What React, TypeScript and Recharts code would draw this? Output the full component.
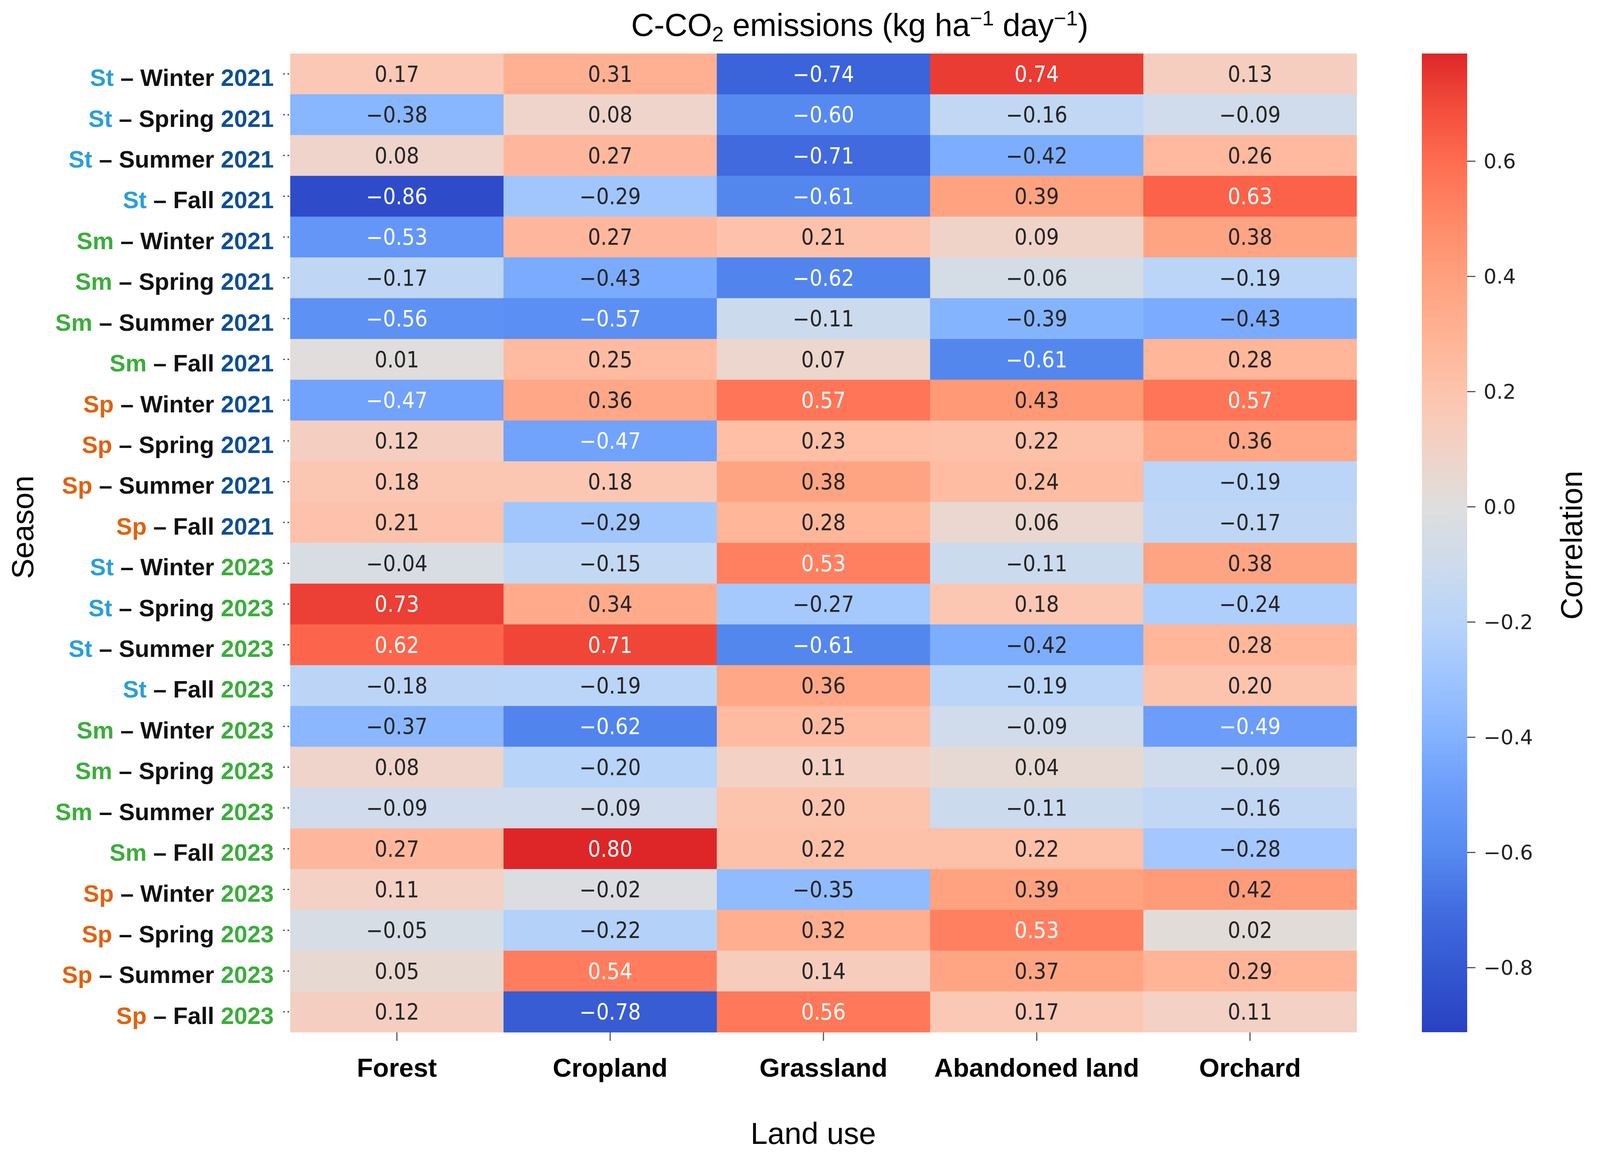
import React from 'react';
import { ScatterChart, Scatter, XAxis, YAxis, BarChart, Bar } from 'recharts';

const LAND_USES = ['Forest', 'Cropland', 'Grassland', 'Abandoned land', 'Orchard'];

const SEASONS = [
  'St – Winter 2021', 'St – Spring 2021', 'St – Summer 2021', 'St – Fall 2021',
  'Sm – Winter 2021', 'Sm – Spring 2021', 'Sm – Summer 2021', 'Sm – Fall 2021',
  'Sp – Winter 2021', 'Sp – Spring 2021', 'Sp – Summer 2021', 'Sp – Fall 2021',
  'St – Winter 2023', 'St – Spring 2023', 'St – Summer 2023', 'St – Fall 2023',
  'Sm – Winter 2023', 'Sm – Spring 2023', 'Sm – Summer 2023', 'Sm – Fall 2023',
  'Sp – Winter 2023', 'Sp – Spring 2023', 'Sp – Summer 2023', 'Sp – Fall 2023',
];

// one array per land use, rows in SEASONS order
const FOREST = [0.17, -0.38, 0.08, -0.86, -0.53, -0.17, -0.56, 0.01, -0.47, 0.12, 0.18, 0.21,
  -0.04, 0.73, 0.62, -0.18, -0.37, 0.08, -0.09, 0.27, 0.11, -0.05, 0.05, 0.12];
const CROPLAND = [0.31, 0.08, 0.27, -0.29, 0.27, -0.43, -0.57, 0.25, 0.36, -0.47, 0.18, -0.29,
  -0.15, 0.34, 0.71, -0.19, -0.62, -0.2, -0.09, 0.8, -0.02, -0.22, 0.54, -0.78];
const GRASSLAND = [-0.74, -0.6, -0.71, -0.61, 0.21, -0.62, -0.11, 0.07, 0.57, 0.23, 0.38, 0.28,
  0.53, -0.27, -0.61, 0.36, 0.25, 0.11, 0.2, 0.22, -0.35, 0.32, 0.14, 0.56];
const ABANDONED = [0.74, -0.16, -0.42, 0.39, 0.09, -0.06, -0.39, -0.61, 0.43, 0.22, 0.24, 0.06,
  -0.11, 0.18, -0.42, -0.19, -0.09, 0.04, -0.11, 0.22, 0.39, 0.53, 0.37, 0.17];
const ORCHARD = [0.13, -0.09, 0.26, 0.63, 0.38, -0.19, -0.43, 0.28, 0.57, 0.36, -0.19, -0.17,
  0.38, -0.24, 0.28, 0.2, -0.49, -0.09, -0.16, -0.28, 0.42, 0.02, 0.29, 0.11];

const COLUMNS = [FOREST, CROPLAND, GRASSLAND, ABANDONED, ORCHARD];

const CB_DOMAIN = [-0.912, 0.787];
const CB_TICKS = [-0.8, -0.6, -0.4, -0.2, 0, 0.2, 0.4, 0.6];

// saturated coolwarm-like ramp
const RAMP: [number, number[]][] = [
  [-0.912, [40, 65, 195]],
  [-0.8, [52, 88, 208]],
  [-0.7, [66, 108, 224]],
  [-0.6, [86, 138, 240]],
  [-0.5, [105, 155, 250]],
  [-0.4, [130, 178, 255]],
  [-0.3, [158, 196, 255]],
  [-0.2, [184, 212, 248]],
  [-0.1, [206, 219, 236]],
  [0, [222, 222, 222]],
  [0.1, [242, 210, 198]],
  [0.2, [253, 196, 173]],
  [0.3, [255, 178, 148]],
  [0.4, [255, 160, 125]],
  [0.5, [255, 137, 103]],
  [0.6, [255, 108, 80]],
  [0.7, [242, 74, 58]],
  [0.8, [222, 38, 40]],
];

const colorFor = (v: number) => {
  if (v <= RAMP[0][0]) return `rgb(${RAMP[0][1].join(',')})`;
  for (let i = 1; i < RAMP.length; i++) {
    const [v1, c1] = RAMP[i];
    if (v <= v1) {
      const [v0, c0] = RAMP[i - 1];
      const t = (v - v0) / (v1 - v0);
      const c = c0.map((a, k) => Math.round(a + (c1[k] - a) * t));
      return `rgb(${c.join(',')})`;
    }
  }
  return `rgb(${RAMP[RAMP.length - 1][1].join(',')})`;
};

const fmt = (v: number, digits = 2) => {
  const s = Math.abs(v).toFixed(digits);
  return v < 0 ? `\u2212${s}` : s;
};

// the photographed area is 4096 px wide, so horizontal positions are scaled to fit
const W = 4096;
const H = 2960;
const TOP = 137;
const LEFT = 743;
const RIGHT = 623;
const BOTTOM = 317;
const CB_LEFT = 3640;
const CB_WIDTH = 116;
const CELL_W = (W - LEFT - RIGHT) / LAND_USES.length;
const CELL_H = (H - TOP - BOTTOM) / SEASONS.length;

const FONT = "'Liberation Sans', Arial, sans-serif";
const PREFIX_COLORS: Record<string, string> = { St: '#2a9fd8', Sm: '#3aae3a', Sp: '#e0620f' };
const YEAR_COLORS: Record<string, string> = { '2021': '#0e4f98', '2023': '#3aae3a' };

const cells = LAND_USES.flatMap((land, c) =>
  SEASONS.map((season, r) => ({ land, season, value: COLUMNS[c][r] }))
);

const HeatCell = (props: any) => {
  const { cx, cy, payload } = props;
  const v = payload.value;
  return (
    <g>
      <rect
        x={cx - CELL_W / 2}
        y={cy - CELL_H / 2}
        width={CELL_W + 0.6}
        height={CELL_H + 0.6}
        fill={colorFor(v)}
      />
      <text
        x={cx}
        y={cy}
        dy="0.36em"
        textAnchor="middle"
        fontSize={57}
        fontFamily="'DejaVu Sans Condensed', 'DejaVu Sans', sans-serif"
        fill={Math.abs(v) >= 0.45 ? '#ffffff' : '#262626'}
      >
        {fmt(v)}
      </text>
    </g>
  );
};

const SeasonTick = (props: any) => {
  const { x, y, payload } = props;
  const parts = String(payload.value).split(' ');
  const prefix = parts[0];
  const year = parts[parts.length - 1];
  const mid = parts.slice(1, -1).join(' ');
  return (
    <text x={x} y={y} dy={31} textAnchor="end" fontSize={61} fontWeight={700} fontFamily={FONT}>
      <tspan fill={PREFIX_COLORS[prefix]}>{prefix}</tspan>
      <tspan fill="#111">{` ${mid} `}</tspan>
      <tspan fill={YEAR_COLORS[year]}>{year}</tspan>
    </text>
  );
};

const SeasonLabel = (props: any) => {
  const { viewBox } = props;
  const x = viewBox.x + 58;
  const y = 1350;
  return (
    <text
      x={x}
      y={y}
      transform={`rotate(-90, ${x}, ${y})`}
      textAnchor="middle"
      dominantBaseline="central"
      fontSize={78}
      fontFamily={FONT}
      fill="#000"
    >
      Season
    </text>
  );
};

const LandLabel = (props: any) => {
  const { viewBox } = props;
  return (
    <text
      x={2082}
      y={viewBox.y + 286}
      textAnchor="middle"
      fontSize={78}
      fontFamily={FONT}
      fill="#000"
    >
      Land use
    </text>
  );
};

const CorrLabel = (props: any) => {
  const { viewBox } = props;
  const x = viewBox.x + (4023 - CB_LEFT - CB_WIDTH);
  const y = 1396;
  return (
    <text
      x={x}
      y={y}
      transform={`rotate(-90, ${x}, ${y})`}
      textAnchor="middle"
      dominantBaseline="central"
      fontSize={78}
      fontFamily={FONT}
      fill="#000"
    >
      Correlation
    </text>
  );
};

const cbData = [{ name: 'Correlation', range: CB_DOMAIN }];

const ColorBar = () => {
  const span = CB_DOMAIN[1] - CB_DOMAIN[0];
  return (
    <BarChart
      width={W - CB_LEFT}
      height={H}
      data={cbData}
      margin={{ top: TOP, bottom: BOTTOM, left: 0, right: 0 }}
      barCategoryGap={0}
    >
      <defs>
        <linearGradient id="cbGrad" x1="0" y1="0" x2="0" y2="1">
          {RAMP.slice()
            .reverse()
            .map(([v, c]) => (
              <stop
                key={v}
                offset={`${(Math.max(0, Math.min(1, (CB_DOMAIN[1] - v) / span)) * 100).toFixed(2)}%`}
                stopColor={`rgb(${c.join(',')})`}
              />
            ))}
        </linearGradient>
      </defs>
      <XAxis dataKey="name" hide />
      <YAxis
        orientation="right"
        type="number"
        domain={CB_DOMAIN}
        ticks={CB_TICKS}
        width={W - CB_LEFT - CB_WIDTH}
        axisLine={false}
        tickSize={21}
        tickMargin={21}
        tickLine={{ stroke: '#333', strokeWidth: 2.5 }}
        tickFormatter={(v: number) => fmt(v, 1)}
        tick={{ fontSize: 52, fill: '#222', fontFamily: "'DejaVu Sans', sans-serif" }}
        label={<CorrLabel />}
      />
      <Bar dataKey="range" fill="url(#cbGrad)" isAnimationActive={false} />
    </BarChart>
  );
};

export default function App() {
  return (
    <div style={{ position: 'absolute', left: 0, top: 0, width: W, height: H, background: '#fff', overflow: 'hidden' }}>
      <div
        style={{
          position: 'absolute',
          left: 2201,
          top: 14,
          transform: 'translateX(-50%)',
          whiteSpace: 'nowrap',
          fontFamily: FONT,
          fontSize: 81,
          lineHeight: '100px',
          color: '#000',
        }}
      >
        C-CO<sub style={{ fontSize: 54, verticalAlign: '-0.25em', lineHeight: 0 }}>2</sub> emissions (kg ha
        <sup style={{ fontSize: 54, verticalAlign: '0.5em', lineHeight: 0 }}>{'\u22121'}</sup> day
        <sup style={{ fontSize: 54, verticalAlign: '0.5em', lineHeight: 0 }}>{'\u22121'}</sup>)
      </div>
      <div style={{ position: 'absolute', left: 0, top: 0 }}>
        <ScatterChart width={W} height={H} margin={{ top: TOP, right: RIGHT, bottom: 0, left: 0 }}>
          <XAxis
            type="category"
            dataKey="land"
            allowDuplicatedCategory={false}
            height={BOTTOM}
            axisLine={false}
            tickSize={22}
            tickMargin={44}
            tickLine={{ stroke: '#555', strokeWidth: 3 }}
            tick={{ fontSize: 67, fontWeight: 700, fill: '#000', fontFamily: FONT }}
            label={<LandLabel />}
          />
          <YAxis
            type="category"
            dataKey="season"
            allowDuplicatedCategory={false}
            reversed
            width={LEFT}
            axisLine={false}
            tickSize={18}
            tickMargin={24}
            tickLine={{ stroke: '#333', strokeWidth: 3, strokeDasharray: '4 7' }}
            tick={<SeasonTick />}
            interval={0}
            label={<SeasonLabel />}
          />
          <Scatter data={cells} shape={<HeatCell />} isAnimationActive={false} />
        </ScatterChart>
      </div>
      <div style={{ position: 'absolute', left: CB_LEFT, top: 0 }}>
        <ColorBar />
      </div>
    </div>
  );
}
